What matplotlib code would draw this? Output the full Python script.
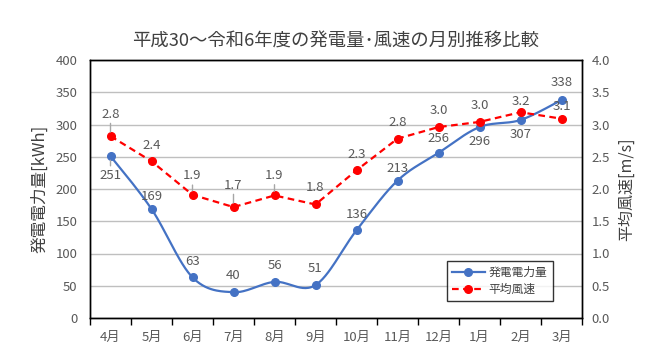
import numpy as np
import matplotlib
matplotlib.use("Agg")
import matplotlib.pyplot as plt
from matplotlib.lines import Line2D

plt.rcParams['font.family'] = ['Noto Sans CJK JP', 'DejaVu Sans']

# ---- data ----
months = ['4月', '5月', '6月', '7月', '8月', '9月', '10月', '11月', '12月', '1月', '2月', '3月']
power_kwh = [251, 169, 63, 40, 56, 51, 136, 213, 256, 296, 307, 338]
wind_ms = [2.82, 2.43, 1.91, 1.72, 1.90, 1.76, 2.29, 2.78, 2.96, 3.04, 3.19, 3.09]
left_ticks = [0, 50, 100, 150, 200, 250, 300, 350, 400]
right_ticks = [0.0, 0.5, 1.0, 1.5, 2.0, 2.5, 3.0, 3.5, 4.0]

title = '平成30～令和6年度の発電量･風速の月別推移比較'
left_label = '発電電力量[kWh]'
right_label = '平均風速[m/s]'
power_name = '発電電力量'
wind_name = '平均風速'

# label placement (pixels, + = down) and leader flags
power_dy = [19, -12, -16, -17, -16, -17, -16, -12, -14, 14, 15, -17]
power_leader = [True] + [False] * 11
wind_dy = [-22, -16, -19, -22, -20, -17, -16, -16, -17, -16, -11, -12]
wind_leader = [True, False, True, True, True, False, False, False, False, False, False, False]

BLUE = '#4472C4'
RED = '#FF0000'
GRID = '#BFBFBF'
TXT = '#595959'
FS = 9.5


def catmull_rom(x, y, n=30):
    x = np.asarray(x, float)
    y = np.asarray(y, float)
    P = np.column_stack([x, y])
    out = []
    for i in range(len(P) - 1):
        p0 = P[i - 1] if i > 0 else P[i]
        p1 = P[i]
        p2 = P[i + 1]
        p3 = P[i + 2] if i + 2 < len(P) else P[i + 1]
        c1 = p1 + (p2 - p0) / 6.0
        c2 = p2 - (p3 - p1) / 6.0
        t = np.linspace(0, 1, n)[:, None]
        seg = ((1 - t) ** 3) * p1 + 3 * ((1 - t) ** 2) * t * c1 + 3 * (1 - t) * t ** 2 * c2 + t ** 3 * p2
        out.append(seg if i == 0 else seg[1:])
    s = np.vstack(out)
    return s[:, 0], s[:, 1]


fig = plt.figure(figsize=(6.5, 3.61), dpi=100)
ax = fig.add_axes([90 / 650, (361 - 318) / 361, 492 / 650, 258 / 361])
ax2 = ax.twinx()

x = np.arange(len(months))

# grid
ax.set_ylim(0, 400)
ax.set_xlim(-0.5, len(months) - 0.5)
ax.set_yticks(left_ticks)
ax.yaxis.grid(True, color=GRID, lw=1)
ax.set_axisbelow(True)
ax2.set_ylim(0, 4.0)
ax2.set_yticks(right_ticks)
ax2.set_yticklabels([f'{v:.1f}' for v in right_ticks])

# power smooth line
sx, sy = catmull_rom(x, power_kwh)
ax.plot(sx, sy, color=BLUE, lw=1.6, zorder=3)
ax.plot(x, power_kwh, 'o', color=BLUE, ms=5.5, zorder=4)

# wind dashed line
ax2.plot(x, wind_ms, color=RED, lw=1.6, ls=(0, (3, 2)), marker='o', ms=5.5, zorder=3)

# data labels
px2pt = 72 / 100
for xi, v, dy, ld in zip(x, power_kwh, power_dy, power_leader):
    kw = {}
    if ld:
        kw['arrowprops'] = dict(arrowstyle='-', color='#A6A6A6', lw=1, shrinkA=0, shrinkB=3)
    ax.annotate(f'{v}', (xi, v), xytext=(0, -dy * px2pt), textcoords='offset points',
                ha='center', va='center', fontsize=FS, color=TXT, zorder=5, **kw)
for xi, v, dy, ld in zip(x, wind_ms, wind_dy, wind_leader):
    kw = {}
    if ld:
        kw['arrowprops'] = dict(arrowstyle='-', color='#A6A6A6', lw=1, shrinkA=0, shrinkB=3)
    ax2.annotate(f'{v:.1f}', (xi, v), xytext=(0, -dy * px2pt), textcoords='offset points',
                 ha='center', va='center', fontsize=FS, color=TXT, zorder=5, **kw)

# x axis: boundary tick marks + centered labels
ax.set_xticks(np.arange(-0.5, len(months), 1.0))
ax.set_xticklabels([])
ax.set_xticks(x, minor=True)
ax.set_xticklabels(months, minor=True)
ax.tick_params(axis='x', which='major', length=5, width=1, color='#000000', direction='out')
ax.tick_params(axis='x', which='minor', length=0, pad=9, labelsize=FS, labelcolor=TXT)
ax.tick_params(axis='y', length=0, pad=9, labelsize=FS, labelcolor=TXT)
ax2.tick_params(axis='y', length=0, pad=7, labelsize=FS, labelcolor=TXT)

for a in (ax, ax2):
    for s in a.spines.values():
        s.set_color('#000000')
        s.set_linewidth(1)

ax.set_ylabel(left_label, fontsize=12, color='#404040', labelpad=5)
ax2.set_ylabel(right_label, fontsize=11.5, color='#404040', labelpad=6)

fig.text(0.5155, 1 - 42 / 361, title, ha='center', va='center', fontsize=13.2, color='#404040')

handles = [Line2D([], [], color=BLUE, lw=1.6, marker='o', ms=5.5),
           Line2D([], [], color=RED, lw=1.6, ls=(0, (3, 2)), marker='o', ms=5.5)]
leg = ax2.legend(handles, [power_name, wind_name], loc='lower left',
                 bbox_to_anchor=(0.726, 0.066, 0.215, 0.151), mode='expand',
                 fontsize=8.5, frameon=True, fancybox=False, borderaxespad=0,
                 handlelength=2.8, handletextpad=0.3, labelspacing=0.35, borderpad=0.4)
leg.get_frame().set_edgecolor('#000000')
leg.get_frame().set_linewidth(1)
for t in leg.get_texts():
    t.set_color('#404040')

fig.savefig('out.png', dpi=100)
